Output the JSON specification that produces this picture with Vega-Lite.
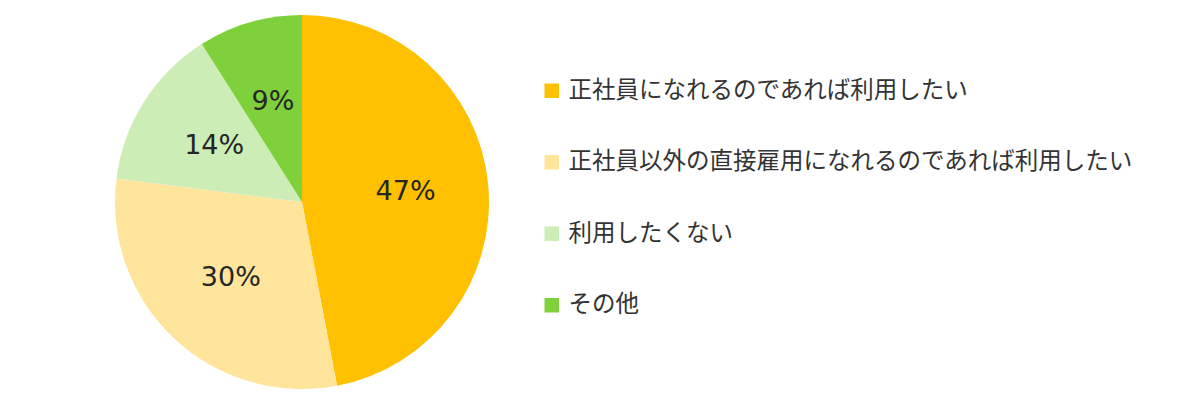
{
  "$schema": "https://vega.github.io/schema/vega-lite/v6.json",
  "width": 604,
  "height": 404,
  "padding": 0,
  "background": "white",
  "config": {"view": {"stroke": null}},
  "data": {
    "values": [
      {"idx": 1, "answer": "正社員になれるのであれば利用したい", "pct": 47},
      {"idx": 2, "answer": "正社員以外の直接雇用になれるのであれば利用したい", "pct": 30},
      {"idx": 3, "answer": "利用したくない", "pct": 14},
      {"idx": 4, "answer": "その他", "pct": 9}
    ]
  },
  "transform": [
    {"calculate": "datum.pct + '%'", "as": "label"}
  ],
  "encoding": {
    "theta": {"field": "pct", "type": "quantitative", "stack": true},
    "order": {"field": "idx", "type": "quantitative"}
  },
  "layer": [
    {
      "mark": {"type": "arc", "outerRadius": 187},
      "encoding": {
        "color": {
          "field": "answer",
          "type": "nominal",
          "sort": {"field": "idx"},
          "scale": {
            "domain": [
              "正社員になれるのであれば利用したい",
              "正社員以外の直接雇用になれるのであれば利用したい",
              "利用したくない",
              "その他"
            ],
            "range": ["#FFC000", "#FFE49C", "#CCEDB5", "#7FD13B"]
          },
          "legend": {
            "title": null,
            "orient": "none",
            "legendX": 540,
            "legendY": 79,
            "symbolType": "square",
            "symbolSize": 210,
            "symbolStrokeWidth": 0,
            "symbolOpacity": 1,
            "labelFont": "Noto Sans CJK JP",
            "labelFontSize": 23.5,
            "labelColor": "#333333",
            "labelLimit": 0,
            "labelOffset": 5,
            "rowPadding": 46.5,
            "padding": 0
          }
        }
      }
    },
    {
      "mark": {
        "type": "text",
        "radius": 104,
        "font": "DejaVu Sans",
        "fontSize": 27,
        "color": "#262626",
        "align": "center",
        "baseline": "middle"
      },
      "encoding": {
        "text": {"field": "label", "type": "nominal"}
      }
    }
  ]
}
